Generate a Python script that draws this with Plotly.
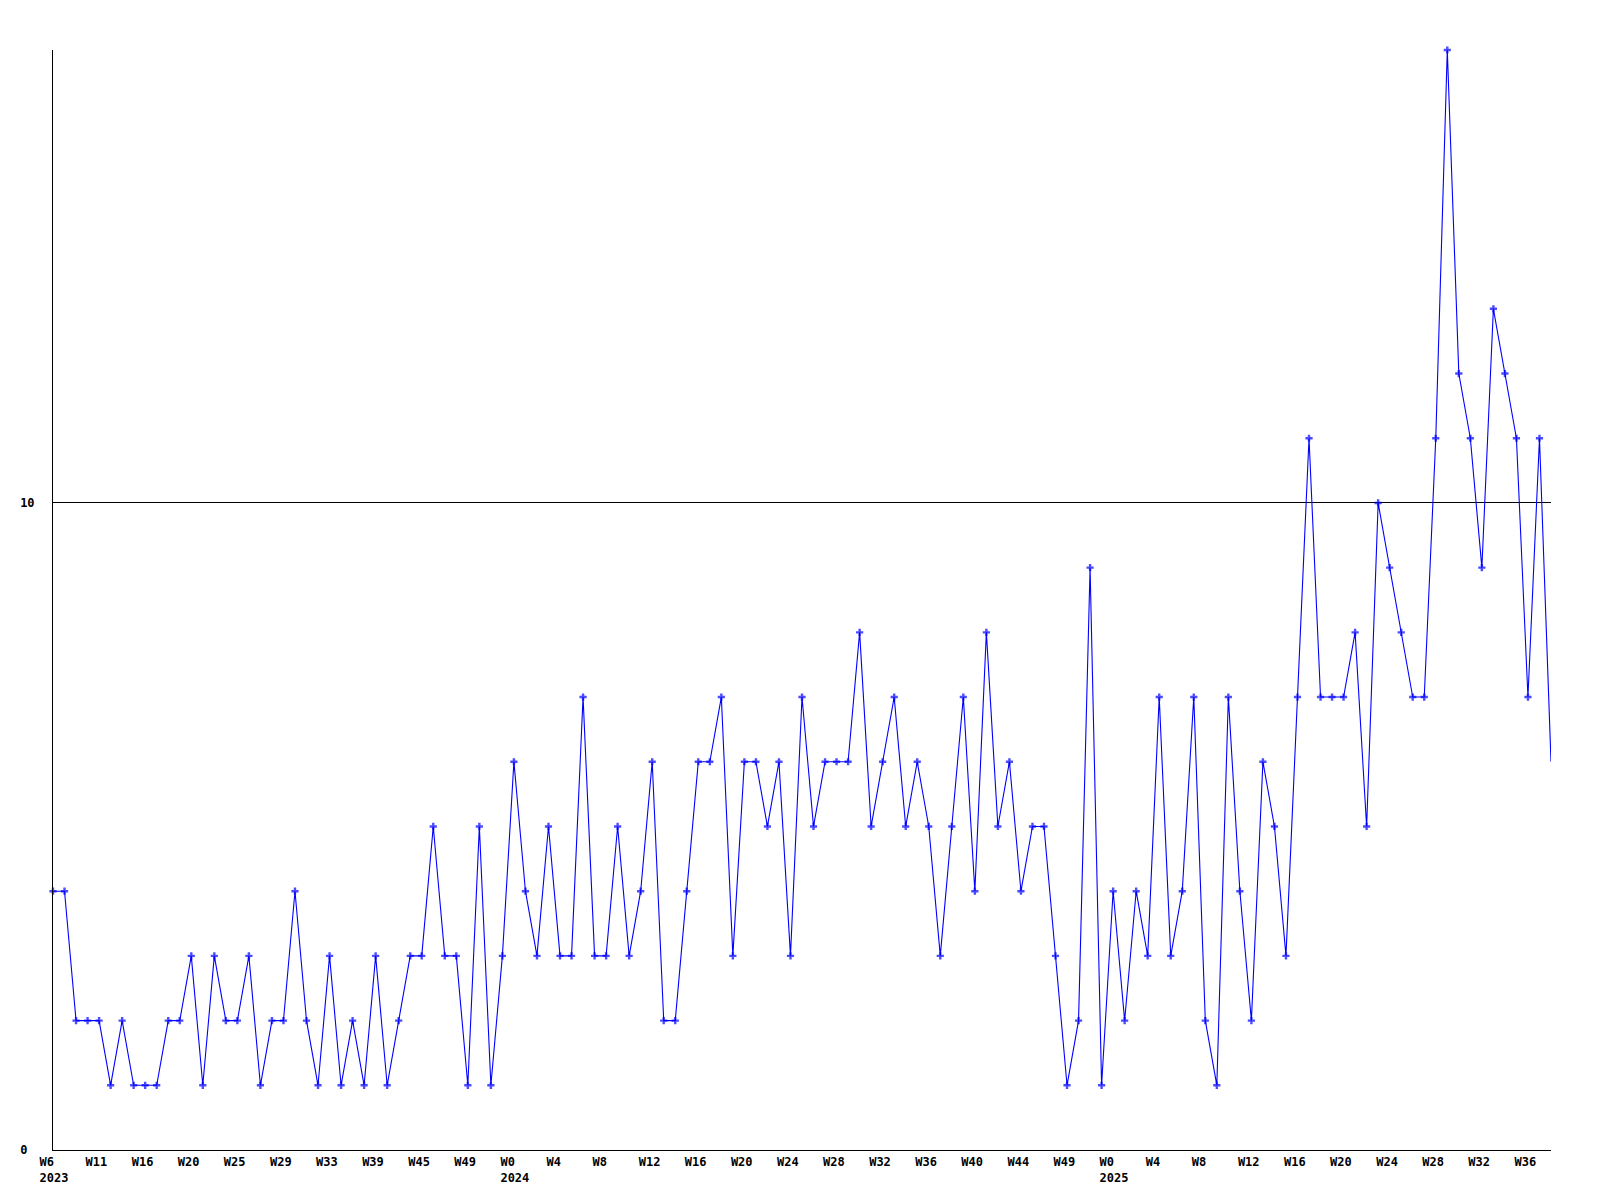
import plotly.graph_objects as go

# Weekly counts, one per point (2023 W6 ... 2025 W38)
values = [4, 4, 2, 2, 2, 1, 2, 1, 1, 1, 2, 2, 3, 1, 3, 2, 2, 3, 1, 2,
          2, 4, 2, 1, 3, 1, 2, 1, 3, 1, 2, 3, 3, 5, 3, 3, 1, 5, 1, 3,
          6, 4, 3, 5, 3, 3, 7, 3, 3, 5, 3, 4, 6, 2, 2, 4, 6, 6, 7, 3,
          6, 6, 5, 6, 3, 7, 5, 6, 6, 6, 8, 5, 6, 7, 5, 6, 5, 3, 5, 7,
          4, 8, 5, 6, 4, 5, 5, 3, 1, 2, 9, 1,
          4, 2, 4, 3, 7, 3, 4, 7, 2, 1, 7, 4, 2, 6, 5, 3, 7, 11, 7, 7,
          7, 8, 5, 10, 9, 8, 7, 7, 11, 17, 12, 11, 9, 13, 12, 11, 7, 11, 6]

tick_index = [0, 4, 8, 12, 16, 20, 24, 28, 32, 36,
              40, 44, 48, 52, 56, 60, 64, 68, 72, 76, 80, 84, 88,
              92, 96, 100, 104, 108, 112, 116, 120, 124, 128]
tick_text = ["W6<br>2023", "W11", "W16", "W20", "W25", "W29", "W33", "W39", "W45", "W49",
             "W0<br>2024", "W4", "W8", "W12", "W16", "W20", "W24", "W28", "W32", "W36", "W40", "W44", "W49",
             "W0<br>2025", "W4", "W8", "W12", "W16", "W20", "W24", "W28", "W32", "W36"]

y_ticks = [0, 10]
y_text = ["0\u00a0", "10"]

x = list(range(len(values)))
marker_sizes = [6] * (len(values) - 1) + [0]

W, H = 1600, 1200
# page body has an 8px offset; margins compensate for it
ML, MR, MT, MB = 42, 57, 42, 58
tfont = dict(family="DejaVu Sans Mono", size=12, color="black", weight="bold")

fig = go.Figure()
fig.add_trace(go.Scatter(
    x=x, y=values, mode="lines+markers",
    line=dict(color="#0000ff", width=1.1),
    marker=dict(symbol="cross", size=marker_sizes, color="#0000ff", line=dict(width=0)),
    cliponaxis=False, showlegend=False, hoverinfo="skip",
))

fig.update_layout(
    width=W, height=H,
    margin=dict(l=ML, r=MR, t=MT, b=MB),
    paper_bgcolor="white", plot_bgcolor="white",
    font=dict(family="DejaVu Sans Mono", size=12, color="black"),
    xaxis=dict(
        range=[0, len(values) - 1],
        tickmode="array", tickvals=tick_index, ticktext=tick_text,
        ticklabelposition="outside right", ticklabelshift=-14,
        ticklabelstandoff=1,
        showgrid=False, zeroline=False,
        showline=True, linecolor="black", linewidth=1,
        ticks="", tickfont=tfont,
    ),
    yaxis=dict(
        range=[0, 17],
        tickmode="array", tickvals=y_ticks, ticktext=y_text,
        showgrid=True, gridcolor="black", gridwidth=1,
        zeroline=False,
        showline=True, linecolor="black", linewidth=1,
        ticks="", ticklabelstandoff=15,
        tickfont=tfont,
    ),
)

fig.write_html("out.html")
